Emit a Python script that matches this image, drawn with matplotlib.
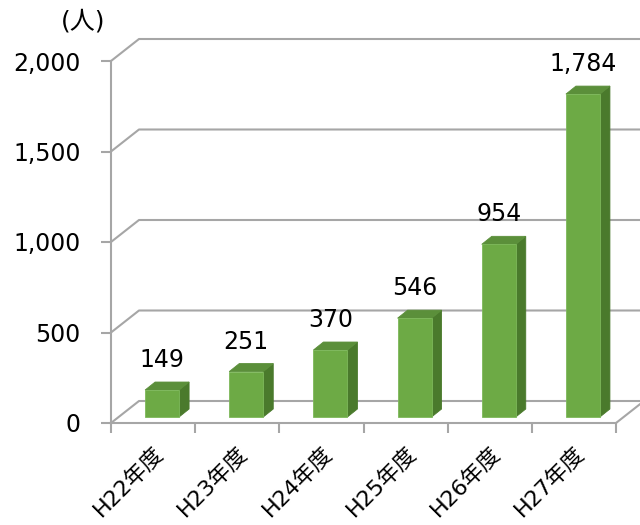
import matplotlib
matplotlib.use("Agg")
import matplotlib.pyplot as plt
from matplotlib.patches import Polygon

plt.rcParams['font.family'] = ['DejaVu Sans', 'Noto Sans CJK JP']

years = ['H22年度', 'H23年度', 'H24年度', 'H25年度', 'H26年度', 'H27年度']
people = [149, 251, 370, 546, 954, 1784]
yticks = [0, 500, 1000, 1500, 2000]

grid_c = '#A6A6A6'
front_c = '#6DAA45'
side_c = '#4A7A2C'
top_c = '#5B8F3A'

fig = plt.figure(figsize=(6.4, 5.25), dpi=100)
ax = fig.add_axes([111 / 640, 1 - 423 / 525, 505 / 640, 362 / 525])
ax.set_xlim(0, len(years))
ax.set_ylim(0, 2000)

# pixel sizes -> data units
px_x = len(years) / 505
px_y = 2000 / 362

# depth of the back wall
dx, dy = 28 * px_x, 22 * px_y
for v in yticks:
    ax.plot([0, dx, len(years) + dx], [v, v + dy, v + dy],
            color=grid_c, lw=1.5, clip_on=False, zorder=1)
ax.plot([len(years), len(years) + dx], [0, dy], color=grid_c, lw=1.5,
        clip_on=False, zorder=1)

# bars
w = 34 * px_x
off_x, off_y = 9 * px_x, 6 * px_y
sx, sy = 10 * px_x, 8 * px_y
for i, v in enumerate(people):
    x0 = i + 0.5 - w / 2 + off_x
    b = off_y
    front = Polygon([(x0, b), (x0 + w, b), (x0 + w, b + v), (x0, b + v)],
                    closed=True, fc=front_c, ec='#7DB85A', lw=0.6, zorder=3,
                    clip_on=False)
    side = Polygon([(x0 + w, b), (x0 + w + sx, b + sy),
                    (x0 + w + sx, b + v + sy), (x0 + w, b + v)],
                   closed=True, fc=side_c, ec=side_c, lw=0.6, zorder=3,
                   clip_on=False)
    top = Polygon([(x0, b + v), (x0 + w, b + v), (x0 + w + sx, b + v + sy),
                   (x0 + sx, b + v + sy)],
                  closed=True, fc=top_c, ec=top_c, lw=0.6, zorder=3,
                  clip_on=False)
    for p in (side, top, front):
        ax.add_patch(p)
    ax.text(x0 + w / 2, b + v + sy + 10 * px_y, f'{v:,}', ha='center',
            va='bottom', fontsize=17, color='black', zorder=4, clip_on=False)

for s in ('top', 'right'):
    ax.spines[s].set_visible(False)
for s in ('left', 'bottom'):
    ax.spines[s].set_color(grid_c)
    ax.spines[s].set_linewidth(1.5)

ax.set_yticks(yticks)
ax.set_yticklabels([f'{v:,}' for v in yticks], fontsize=17)
ax.tick_params(axis='y', length=7, width=1.5, color=grid_c, pad=15)

ax.set_xticks([i + 0.5 for i in range(len(years))])
ax.set_xticklabels(years, fontsize=16, rotation=45, ha='right',
                   rotation_mode='anchor')
ax.tick_params(axis='x', which='major', length=0, pad=14)
ax.set_xticks(range(len(years) + 1), minor=True)
ax.tick_params(axis='x', which='minor', length=7, width=1.5, color=grid_c)

fig.text(83 / 640, 1 - 21 / 525, '(人)', ha='center', va='center', fontsize=18)

fig.savefig('out.png', dpi=100)
